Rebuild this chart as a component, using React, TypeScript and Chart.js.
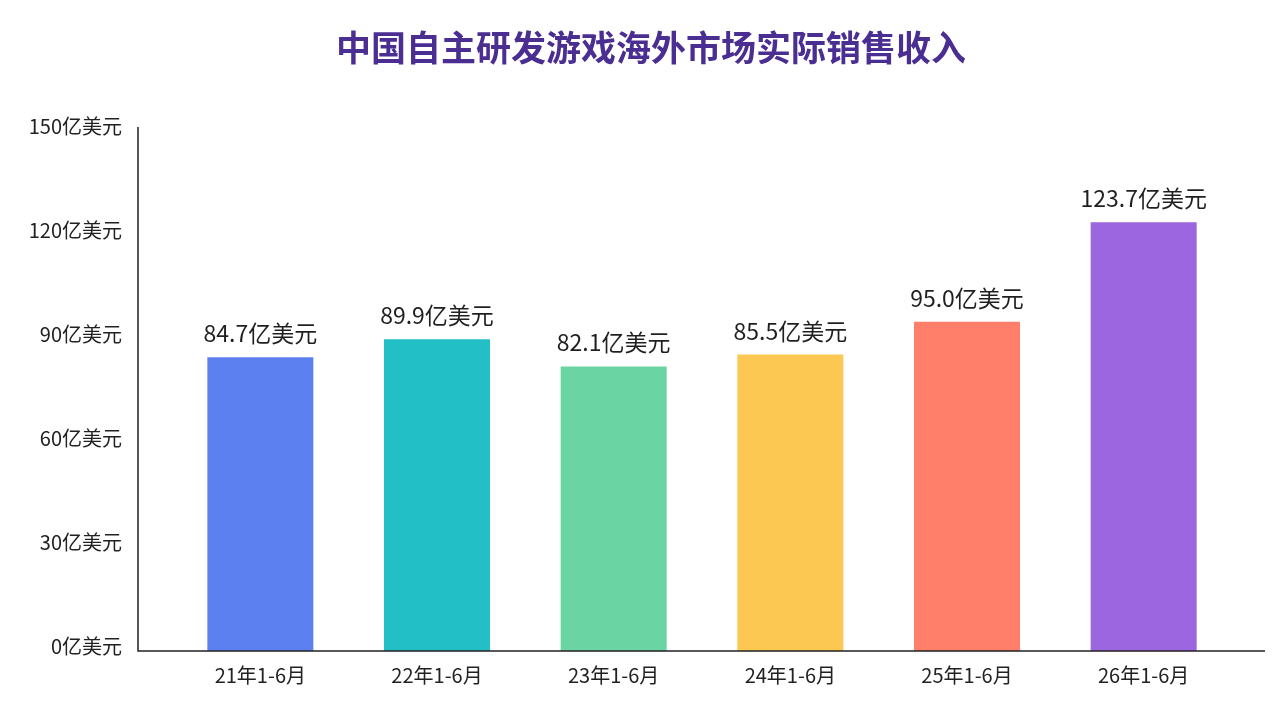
import React, { useEffect, useRef } from "react";
import Chart from "chart.js/auto";

const categories = ["21年1-6月", "22年1-6月", "23年1-6月", "24年1-6月", "25年1-6月", "26年1-6月"];
const revenue = [84.7, 89.9, 82.1, 85.5, 95.0, 123.7];
const barColors = ["#5C80F0", "#22BFC7", "#6AD4A2", "#FDC851", "#FF7F6B", "#9B66E0"];
const yTicks = [0, 30, 60, 90, 120, 150];
const unit = "亿美元";
const titleText = "中国自主研发游戏海外市场实际销售收入";

const FONT = "'Noto Sans CJK SC', 'Noto Sans', sans-serif";

const decorPlugin = {
  id: "decor",
  afterDraw(chart: any) {
    const { ctx, chartArea } = chart;
    ctx.save();
    // title
    ctx.fillStyle = "#4B2E91";
    ctx.font = `bold 35px ${FONT}`;
    ctx.textAlign = "center";
    ctx.textBaseline = "middle";
    ctx.fillText(titleText, 651, 48);

    // axis lines
    ctx.strokeStyle = "#222";
    ctx.lineWidth = 1.5;
    ctx.beginPath();
    ctx.moveTo(138, 127);
    ctx.lineTo(138, chartArea.bottom);
    ctx.lineTo(1265, chartArea.bottom);
    ctx.stroke();

    // value labels
    const meta = chart.getDatasetMeta(0);
    ctx.fillStyle = "#1f1f1f";
    ctx.font = `23px ${FONT}`;
    ctx.textBaseline = "alphabetic";
    meta.data.forEach((bar: any, i: number) => {
      ctx.fillText(revenue[i].toFixed(1) + unit, bar.x, bar.y - 15);
    });
    ctx.restore();
  },
};

export default function App() {
  const canvasRef = useRef<HTMLCanvasElement>(null);

  useEffect(() => {
    const ctx = canvasRef.current?.getContext("2d");
    if (!ctx) return;
    document.body.style.margin = "0";

    const chart = new Chart(ctx, {
      type: "bar",
      data: {
        labels: categories,
        datasets: [
          {
            data: revenue,
            backgroundColor: barColors,
            barPercentage: 0.6,
            categoryPercentage: 1,
          },
        ],
      },
      options: {
        responsive: false,
        animation: false,
        layout: { padding: { top: 131, right: 48, left: 0, bottom: 0 } },
        plugins: {
          legend: { display: false },
          tooltip: { enabled: false },
          title: { display: false },
        },
        scales: {
          x: {
            grid: { display: false, drawTicks: false },
            border: { display: false },
            ticks: {
              color: "#222",
              font: { family: FONT, size: 20 },
              padding: 12,
            },
            afterFit(scale: any) {
              scale.height = 69;
            },
          },
          y: {
            min: 0,
            max: 150,
            afterBuildTicks(scale: any) {
              scale.ticks = yTicks.map((v) => ({ value: v }));
            },
            grid: { display: false, drawTicks: false },
            border: { display: false },
            ticks: {
              color: "#222",
              font: { family: FONT, size: 20 },
              padding: 50,
              labelOffset: -5,
              callback: (v: any) => v + unit,
            },
            afterFit(scale: any) {
              scale.width = 172;
            },
          },
        },
      },
      plugins: [decorPlugin],
    });

    return () => {
      chart.destroy();
    };
  }, []);

  return (
    <div style={{ position: "fixed", left: 0, top: 0, width: 1280, height: 720, background: "#fff" }}>
      <canvas ref={canvasRef} width={1280} height={720} style={{ width: 1280, height: 720 }} />
    </div>
  );
}
